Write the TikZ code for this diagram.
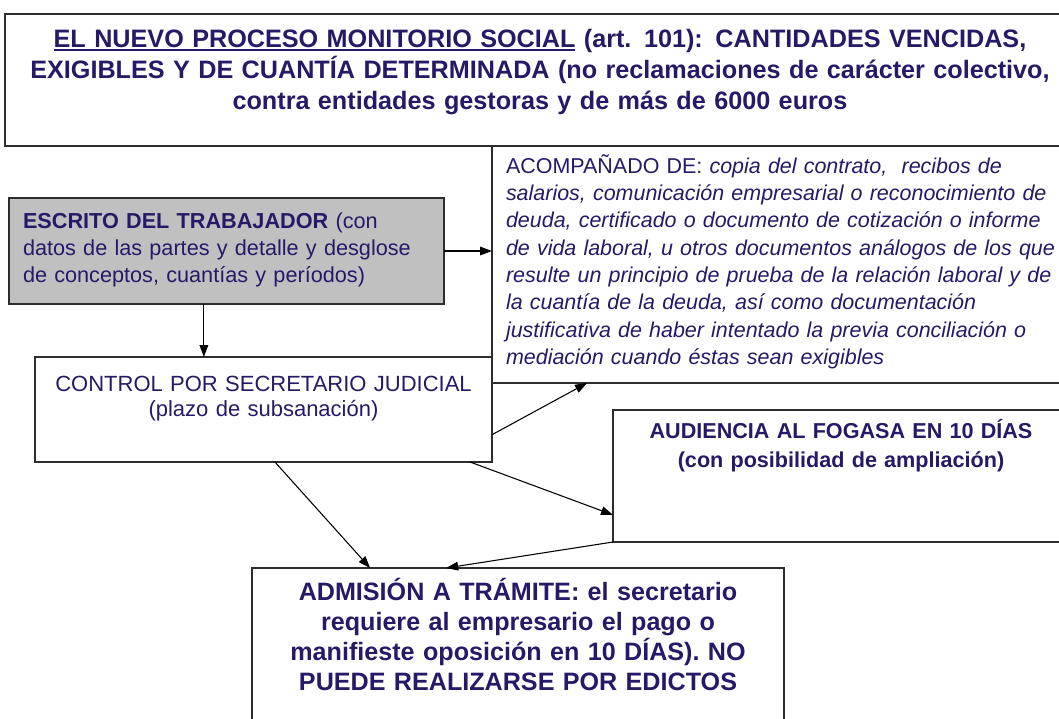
\documentclass[tikz,border=0pt]{standalone}
\usepackage{fontspec}
\setmainfont{Liberation Sans}
\usetikzlibrary{arrows.meta,calc}
\definecolor{ink}{RGB}{40,24,104}
\definecolor{boxgrey}{RGB}{192,192,192}
\definecolor{edge}{RGB}{45,45,45}
\newcommand\myul[1]{\setbox0\hbox{#1}\rlap{\rule[-2.8pt]{\wd0}{1.2pt}}\box0\relax}
\begin{document}
\begin{tikzpicture}[x=0.75pt,y=-0.75pt,
  frame/.style={draw=edge,line width=1.1pt,rectangle,inner sep=0pt,outer sep=0pt,anchor=north west},
  label/.style={text=ink,inner sep=0pt,outer sep=0pt},
  link/.style={draw=black,line width=0.8pt,-{Triangle[length=9pt,width=6.5pt]}}]
\useasboundingbox (0,0) rectangle (1059,718);
\begin{scope}
\clip (0,0) rectangle (1059,718);
\node[frame,minimum width=802.5pt,minimum height=99pt] (title) at (5,14) {};
\node[frame,minimum width=437.25pt,minimum height=177.75pt] (acomp) at (492,146) {};
\node[frame,fill=boxgrey,minimum width=326.25pt,minimum height=79.5pt] (grey) at (9,198) {};
\node[frame,minimum width=342.75pt,minimum height=78.75pt] (control) at (35,357) {};
\node[frame,minimum width=346.5pt,minimum height=99pt] (fogasa) at (613,410) {};
\node[frame,minimum width=399pt,minimum height=121.5pt] (admit) at (252,568) {};

\node[label,anchor=base,text width=800pt,align=center,font=\fontsize{18.9}{23.25}\selectfont\bfseries] (titletext) at (540,47)
  {\myul{EL NUEVO PROCESO MONITORIO SOCIAL} (art. 101): CANTIDADES VENCIDAS,\\
   EXIGIBLES Y DE CUANTÍA DETERMINADA (no reclamaciones de carácter colectivo,\\
   contra entidades gestoras y de más de 6000 euros};
\node[label,anchor=base west,text width=320pt,align=left,font=\fontsize{16.25}{20.25}\selectfont] (greytext) at (23,228)
  {\textbf{ESCRITO DEL TRABAJADOR} (con\\
   datos de las partes y detalle y desglose\\
   de conceptos, cuantías y períodos)};
\node[label,anchor=base west,text width=430pt,align=left,font=\fontsize{16.1}{20.5}\selectfont] (acomptext) at (506,173)
  {ACOMPAÑADO DE: \textit{copia del contrato,\ \ recibos de}\\
   \textit{salarios, comunicación empresarial o reconocimiento de}\\
   \textit{deuda, certificado o documento de cotización o informe}\\
   \textit{de vida laboral, u otros documentos análogos de los que}\\
   \textit{resulte un principio de prueba de la relación laboral y de}\\
   \textit{la cuantía de la deuda, así como documentación}\\
   \textit{justificativa de haber intentado la previa conciliación o}\\
   \textit{mediación cuando éstas sean exigibles}};
\node[label,anchor=base,text width=340pt,align=center,font=\fontsize{16.5}{18.75}\selectfont] (controltext) at (263.5,391)
  {CONTROL POR SECRETARIO JUDICIAL\\(plazo de subsanación)};
\node[label,anchor=base,text width=340pt,align=center,font=\fontsize{16.2}{21.75}\selectfont\bfseries] (fogasatext) at (841,438)
  {AUDIENCIA AL FOGASA EN 10 DÍAS\\(con posibilidad de ampliación)};
\node[label,anchor=base,text width=395pt,align=center,font=\fontsize{18.85}{22.5}\selectfont\bfseries] (admittext) at (518,600)
  {ADMISIÓN A TRÁMITE: el secretario\\
   requiere al empresario el pago o\\
   manifieste oposición en 10 DÍAS). NO\\
   PUEDE REALIZARSE POR EDICTOS};

\draw[link] (grey.east) -- (grey.east -| acomp.west);
\coordinate (g1) at ($(grey.south west)!0.448!(grey.south east)$);
\draw[link] (g1) -- (g1 |- control.north);
\draw[link] ($(control.north east)!0.74!(control.south east)$) -- ($(acomp.south west)!0.163!(acomp.south east)$);
\draw[link] ($(control.south west)!0.525!(control.south east)$) -- ($(admit.north west)!0.222!(admit.north east)$);
\draw[link] ($(control.south west)!0.952!(control.south east)$) -- ($(fogasa.north west)!0.795!(fogasa.south west)$);
\draw[link] (fogasa.south west) -- ($(admit.north west)!0.365!(admit.north east)$);
\end{scope}
\end{tikzpicture}
\end{document}
